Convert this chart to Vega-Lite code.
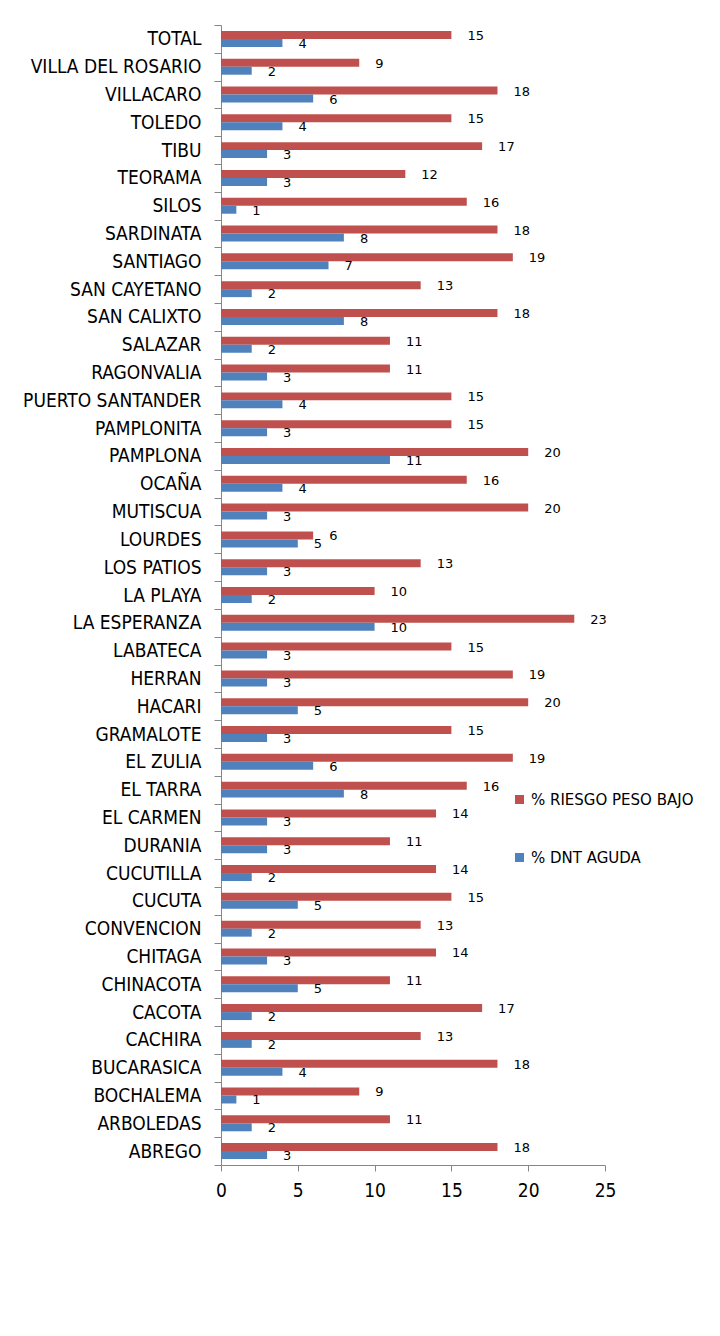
{
  "$schema": "https://vega.github.io/schema/vega-lite/v6.json",
  "width": 384,
  "height": 1140,
  "autosize": {"type": "none"},
  "padding": {"left": 221, "top": 25, "right": 115, "bottom": 171},
  "background": "white",
  "config": {"view": {"stroke": null}},
  "data": {"values": [
    {"m": "TOTAL", "s": "% RIESGO PESO BAJO", "v": 15}, {"m": "TOTAL", "s": "% DNT AGUDA", "v": 4},
    {"m": "VILLA DEL ROSARIO", "s": "% RIESGO PESO BAJO", "v": 9}, {"m": "VILLA DEL ROSARIO", "s": "% DNT AGUDA", "v": 2},
    {"m": "VILLACARO", "s": "% RIESGO PESO BAJO", "v": 18}, {"m": "VILLACARO", "s": "% DNT AGUDA", "v": 6},
    {"m": "TOLEDO", "s": "% RIESGO PESO BAJO", "v": 15}, {"m": "TOLEDO", "s": "% DNT AGUDA", "v": 4},
    {"m": "TIBU", "s": "% RIESGO PESO BAJO", "v": 17}, {"m": "TIBU", "s": "% DNT AGUDA", "v": 3},
    {"m": "TEORAMA", "s": "% RIESGO PESO BAJO", "v": 12}, {"m": "TEORAMA", "s": "% DNT AGUDA", "v": 3},
    {"m": "SILOS", "s": "% RIESGO PESO BAJO", "v": 16}, {"m": "SILOS", "s": "% DNT AGUDA", "v": 1},
    {"m": "SARDINATA", "s": "% RIESGO PESO BAJO", "v": 18}, {"m": "SARDINATA", "s": "% DNT AGUDA", "v": 8},
    {"m": "SANTIAGO", "s": "% RIESGO PESO BAJO", "v": 19}, {"m": "SANTIAGO", "s": "% DNT AGUDA", "v": 7},
    {"m": "SAN CAYETANO", "s": "% RIESGO PESO BAJO", "v": 13}, {"m": "SAN CAYETANO", "s": "% DNT AGUDA", "v": 2},
    {"m": "SAN CALIXTO", "s": "% RIESGO PESO BAJO", "v": 18}, {"m": "SAN CALIXTO", "s": "% DNT AGUDA", "v": 8},
    {"m": "SALAZAR", "s": "% RIESGO PESO BAJO", "v": 11}, {"m": "SALAZAR", "s": "% DNT AGUDA", "v": 2},
    {"m": "RAGONVALIA", "s": "% RIESGO PESO BAJO", "v": 11}, {"m": "RAGONVALIA", "s": "% DNT AGUDA", "v": 3},
    {"m": "PUERTO SANTANDER", "s": "% RIESGO PESO BAJO", "v": 15}, {"m": "PUERTO SANTANDER", "s": "% DNT AGUDA", "v": 4},
    {"m": "PAMPLONITA", "s": "% RIESGO PESO BAJO", "v": 15}, {"m": "PAMPLONITA", "s": "% DNT AGUDA", "v": 3},
    {"m": "PAMPLONA", "s": "% RIESGO PESO BAJO", "v": 20}, {"m": "PAMPLONA", "s": "% DNT AGUDA", "v": 11},
    {"m": "OCAÑA", "s": "% RIESGO PESO BAJO", "v": 16}, {"m": "OCAÑA", "s": "% DNT AGUDA", "v": 4},
    {"m": "MUTISCUA", "s": "% RIESGO PESO BAJO", "v": 20}, {"m": "MUTISCUA", "s": "% DNT AGUDA", "v": 3},
    {"m": "LOURDES", "s": "% RIESGO PESO BAJO", "v": 6}, {"m": "LOURDES", "s": "% DNT AGUDA", "v": 5},
    {"m": "LOS PATIOS", "s": "% RIESGO PESO BAJO", "v": 13}, {"m": "LOS PATIOS", "s": "% DNT AGUDA", "v": 3},
    {"m": "LA PLAYA", "s": "% RIESGO PESO BAJO", "v": 10}, {"m": "LA PLAYA", "s": "% DNT AGUDA", "v": 2},
    {"m": "LA ESPERANZA", "s": "% RIESGO PESO BAJO", "v": 23}, {"m": "LA ESPERANZA", "s": "% DNT AGUDA", "v": 10},
    {"m": "LABATECA", "s": "% RIESGO PESO BAJO", "v": 15}, {"m": "LABATECA", "s": "% DNT AGUDA", "v": 3},
    {"m": "HERRAN", "s": "% RIESGO PESO BAJO", "v": 19}, {"m": "HERRAN", "s": "% DNT AGUDA", "v": 3},
    {"m": "HACARI", "s": "% RIESGO PESO BAJO", "v": 20}, {"m": "HACARI", "s": "% DNT AGUDA", "v": 5},
    {"m": "GRAMALOTE", "s": "% RIESGO PESO BAJO", "v": 15}, {"m": "GRAMALOTE", "s": "% DNT AGUDA", "v": 3},
    {"m": "EL ZULIA", "s": "% RIESGO PESO BAJO", "v": 19}, {"m": "EL ZULIA", "s": "% DNT AGUDA", "v": 6},
    {"m": "EL TARRA", "s": "% RIESGO PESO BAJO", "v": 16}, {"m": "EL TARRA", "s": "% DNT AGUDA", "v": 8},
    {"m": "EL CARMEN", "s": "% RIESGO PESO BAJO", "v": 14}, {"m": "EL CARMEN", "s": "% DNT AGUDA", "v": 3},
    {"m": "DURANIA", "s": "% RIESGO PESO BAJO", "v": 11}, {"m": "DURANIA", "s": "% DNT AGUDA", "v": 3},
    {"m": "CUCUTILLA", "s": "% RIESGO PESO BAJO", "v": 14}, {"m": "CUCUTILLA", "s": "% DNT AGUDA", "v": 2},
    {"m": "CUCUTA", "s": "% RIESGO PESO BAJO", "v": 15}, {"m": "CUCUTA", "s": "% DNT AGUDA", "v": 5},
    {"m": "CONVENCION", "s": "% RIESGO PESO BAJO", "v": 13}, {"m": "CONVENCION", "s": "% DNT AGUDA", "v": 2},
    {"m": "CHITAGA", "s": "% RIESGO PESO BAJO", "v": 14}, {"m": "CHITAGA", "s": "% DNT AGUDA", "v": 3},
    {"m": "CHINACOTA", "s": "% RIESGO PESO BAJO", "v": 11}, {"m": "CHINACOTA", "s": "% DNT AGUDA", "v": 5},
    {"m": "CACOTA", "s": "% RIESGO PESO BAJO", "v": 17}, {"m": "CACOTA", "s": "% DNT AGUDA", "v": 2},
    {"m": "CACHIRA", "s": "% RIESGO PESO BAJO", "v": 13}, {"m": "CACHIRA", "s": "% DNT AGUDA", "v": 2},
    {"m": "BUCARASICA", "s": "% RIESGO PESO BAJO", "v": 18}, {"m": "BUCARASICA", "s": "% DNT AGUDA", "v": 4},
    {"m": "BOCHALEMA", "s": "% RIESGO PESO BAJO", "v": 9}, {"m": "BOCHALEMA", "s": "% DNT AGUDA", "v": 1},
    {"m": "ARBOLEDAS", "s": "% RIESGO PESO BAJO", "v": 11}, {"m": "ARBOLEDAS", "s": "% DNT AGUDA", "v": 2},
    {"m": "ABREGO", "s": "% RIESGO PESO BAJO", "v": 18}, {"m": "ABREGO", "s": "% DNT AGUDA", "v": 3}
  ]},
  "encoding": {
    "y": {
      "field": "m", "type": "nominal", "sort": null,
      "scale": {"paddingInner": 0, "paddingOuter": 0},
      "axis": {
        "title": null, "labelFont": "Liberation Sans Narrow, DejaVu Sans Condensed, sans-serif",
        "labelFontSize": 19, "labelColor": "#000000", "labelPadding": 13,
        "tickBand": "extent", "tickSize": 7, "tickColor": "#868686",
        "domainColor": "#868686", "grid": false, "labelLimit": 300
      }
    },
    "yOffset": {
      "field": "s", "type": "nominal",
      "sort": ["% RIESGO PESO BAJO", "% DNT AGUDA"],
      "scale": {"paddingInner": 0, "paddingOuter": 0.74}
    },
    "x": {
      "field": "v", "type": "quantitative",
      "scale": {"domain": [0, 25], "nice": false},
      "axis": {
        "title": null, "values": [0, 5, 10, 15, 20, 25], "grid": false,
        "labelFont": "Liberation Sans Narrow, DejaVu Sans Condensed, sans-serif",
        "labelFontSize": 19, "labelColor": "#000000", "labelPadding": 10,
        "tickSize": 6, "tickColor": "#868686", "domainColor": "#868686",
        "labelFlush": false
      }
    }
  },
  "layer": [
    {
      "mark": {"type": "bar"},
      "encoding": {
        "color": {
          "field": "s", "type": "nominal",
          "scale": {"domain": ["% RIESGO PESO BAJO", "% DNT AGUDA"], "range": ["#C0504D", "#4F81BD"]},
          "legend": {
            "title": null, "orient": "none", "legendX": 291, "legendY": 767,
            "symbolType": "square", "symbolSize": 81, "symbolStrokeWidth": 0,
            "labelFont": "DejaVu Sans", "labelFontSize": 15, "labelColor": "#000000",
            "labelOffset": 4, "rowPadding": 42, "labelLimit": 400
          }
        }
      }
    },
    {
      "mark": {"type": "text", "align": "left", "baseline": "middle", "dx": 16, "dy": 1, "font": "DejaVu Sans", "fontSize": 13, "color": "#000000"},
      "encoding": {"text": {"field": "v", "type": "quantitative"}}
    }
  ]
}
